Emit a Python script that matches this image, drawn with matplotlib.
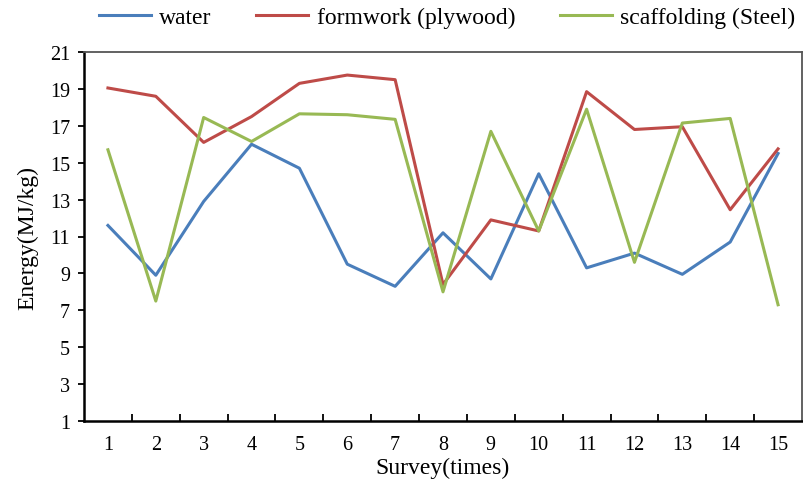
import numpy as np
import matplotlib
matplotlib.use('Agg')
import matplotlib.pyplot as plt

plt.rcParams['font.family'] = ['Liberation Serif', 'DejaVu Serif']

# datos
surveys = list(range(1, 16))
water = [11.6, 8.9, 12.9, 16.0, 14.7, 9.5, 8.3, 11.2, 8.7, 14.4, 9.3, 10.1, 8.95, 10.7, 15.5]
formwork = [19.05, 18.6, 16.1, 17.5, 19.3, 19.75, 19.5, 8.4, 11.9, 11.3, 18.85, 16.8, 16.95, 12.45, 15.75]
scaffolding = [15.7, 7.5, 17.45, 16.15, 17.65, 17.6, 17.35, 8.0, 16.7, 11.3, 17.9, 9.6, 17.15, 17.4, 7.3]
y_ticks = [1, 3, 5, 7, 9, 11, 13, 15, 17, 19, 21]

fig = plt.figure(figsize=(8.04, 4.85), dpi=100)
ax = fig.add_axes([84 / 804, 1 - 422 / 485, (802 - 84) / 804, (422 - 53) / 485])

ax.plot(surveys, water, color='#4A7EBB', lw=2.2, label='water')
ax.plot(surveys, formwork, color='#BE4B48', lw=2.2, label='formwork (plywood)')
ax.plot(surveys, scaffolding, color='#98B954', lw=2.2, label='scaffolding (Steel)')

ax.set_xlim(0.5, 15.5)
ax.set_ylim(1, 21)
ax.set_yticks(y_ticks)
ax.set_xticks(surveys)
ax.set_xticks(np.arange(1.5, 15.5, 1), minor=True)
ax.tick_params(axis='x', which='major', length=0, pad=10, labelsize=14.5)
ax.tick_params(axis='x', which='minor', direction='in', length=5, width=1.3)
ax.tick_params(axis='y', direction='out', length=4, width=1.3, pad=6, labelsize=14.5)

for s in ax.spines.values():
    s.set_linewidth(1.3)
ax.spines['top'].set_color('#555555')
ax.spines['right'].set_color('#555555')
ax.spines['left'].set_linewidth(1.8)
ax.spines['bottom'].set_linewidth(1.8)

ax.set_xlabel('Survey(times)', fontsize=17, labelpad=2)
ax.set_ylabel('Energy(MJ/kg)', fontsize=17, labelpad=8)

fig.legend(loc='center left', bbox_to_anchor=(99 / 804, 1 - 18 / 485), ncol=3,
           frameon=False, fontsize=17, handlelength=2.2, handletextpad=0.35,
           columnspacing=1.9, borderpad=0, borderaxespad=0)

fig.savefig('out.png', dpi=100)
